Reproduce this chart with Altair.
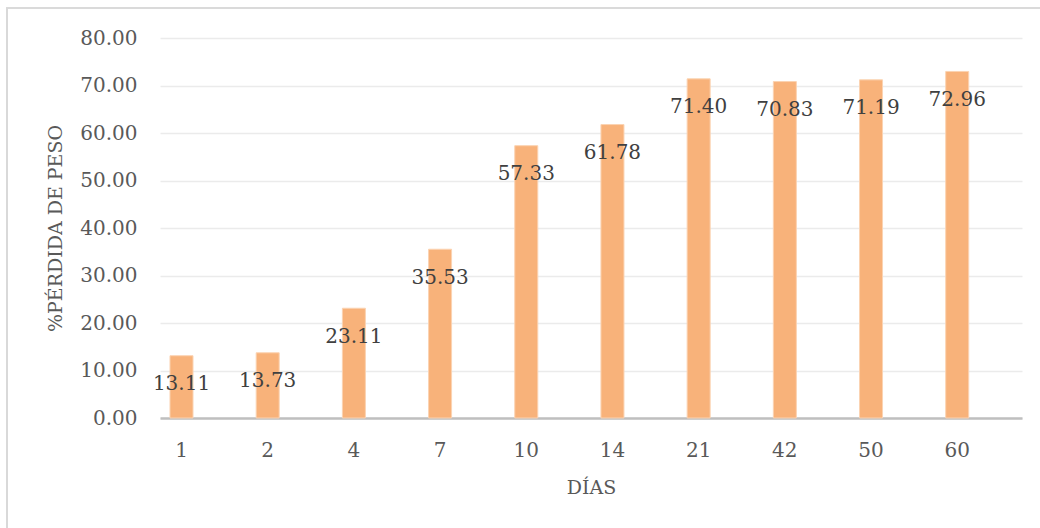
import altair as alt
import pandas as pd

dias = ["1", "2", "4", "7", "10", "14", "21", "42", "50", "60"]
perdida = [13.11, 13.73, 23.11, 35.53, 57.33, 61.78, 71.40, 70.83, 71.19, 72.96]
y_ticks = [0, 10, 20, 30, 40, 50, 60, 70, 80]

df = pd.DataFrame({"dia": dias, "perdida": perdida})

FONT = "DejaVu Serif"

x_enc = alt.X(
    "dia:N",
    sort=dias,
    title="DÍAS",
    scale=alt.Scale(paddingInner=0.733, paddingOuter=0.367, align=0.158),
    axis=alt.Axis(
        labelAngle=0,
        ticks=False,
        labelPadding=22,
        domainColor="#BFBFBF",
        domainWidth=2.5,
        grid=False,
        titleX=431,
        titleY=75,
        titleBaseline="alphabetic",
    ),
)
y_enc = alt.Y(
    "perdida:Q",
    title="%PÉRDIDA DE PESO",
    scale=alt.Scale(domain=[0, 80], nice=False),
    axis=alt.Axis(
        values=y_ticks,
        format=".2f",
        ticks=False,
        domain=False,
        labelPadding=23,
        gridColor="#EBEBEB",
        gridWidth=1.5,
        titleX=-105,
        titleY=190,
        titleBaseline="middle",
        titleAngle=-90,
    ),
)

base = alt.Chart(df)

# outer chart frame
frame = base.mark_rect(fill=None, stroke="#D9D9D9", strokeWidth=1.2).encode(
    x=alt.value(-153), y=alt.value(-30), x2=alt.value(2000), y2=alt.value(2000)
)

bars = base.mark_bar(color="#F8B27A", stroke="#FBD3B2", strokeWidth=1).encode(
    x=x_enc, y=y_enc
)

labels = base.mark_text(
    font=FONT, fontSize=20, color="#404040", baseline="middle", dy=28.5
).encode(
    x=alt.X("dia:N", sort=dias),
    y=alt.Y("perdida:Q"),
    text=alt.Text("perdida:Q", format=".2f"),
)

chart = (
    alt.layer(frame, bars, labels)
    .properties(
        width=862,
        height=380,
        autosize=alt.AutoSizeParams(type="none"),
        padding={"left": 160, "top": 38, "right": 18, "bottom": 110},
    )
    .configure_view(stroke=None)
    .configure_axis(
        labelFont=FONT,
        labelFontSize=20,
        labelColor="#595959",
        titleFont=FONT,
        titleFontSize=19,
        titleFontWeight="normal",
        titleColor="#595959",
    )
)

chart.save("out.html", embed_options={"renderer": "svg", "actions": False})
